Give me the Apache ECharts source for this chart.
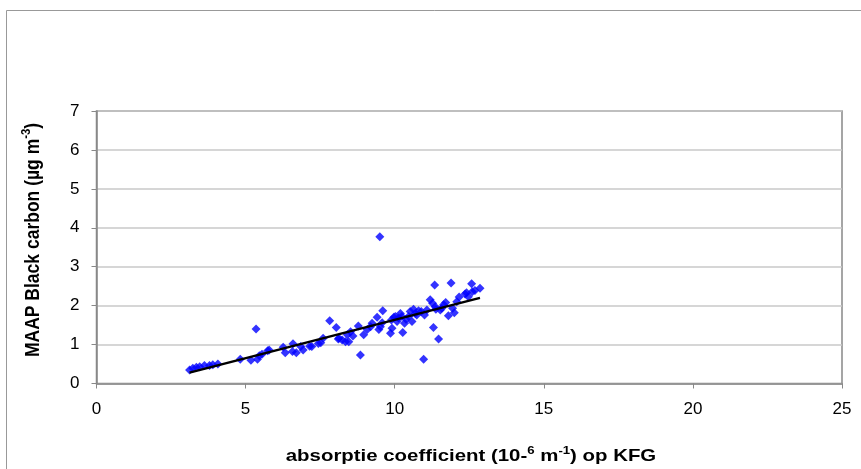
<!DOCTYPE html>
<html>
<head>
<meta charset="utf-8">
<script src="https://cdn.jsdelivr.net/npm/echarts@6/dist/echarts.min.js"></script>
<style>html,body{margin:0;padding:0;background:#fff;}#c{width:861px;height:469px;}</style>
</head>
<body>
<div id="c"></div>
<script>
// absorptie coefficient (x) values
var xValues = [3.12,3.23,3.35,3.46,3.62,3.79,3.90,4.07,4.82,5.18,5.35,5.40,5.46,5.55,5.74,5.79,6.26,6.33,6.59,6.57,6.70,6.85,6.93,7.15,7.22,7.44,7.52,7.60,7.82,8.04,8.11,
  8.13,8.24,8.35,8.46,8.41,8.52,8.60,8.78,8.85,8.96,9.08,9.19,9.24,9.41,9.47,9.52,9.50,9.60,9.58,9.86,9.91,9.89,9.97,10.02,10.08,10.13,10.19,10.24,10.27,10.33,10.38,10.47,10.52,10.58,10.63,10.69,10.74,10.80,10.89,10.97,11.00,11.08,11.19,11.27,11.30,11.34,11.36,11.38,11.47,11.53,11.58,11.64,11.71,11.80,11.89,11.94,12.00,12.08,12.16,12.36,12.41,12.47,12.58,12.60,12.69,12.86];
// MAAP black carbon (y) values
var yValues = [0.35,0.39,0.42,0.43,0.46,0.46,0.48,0.50,0.62,0.60,1.40,0.62,0.71,0.75,0.84,0.86,0.93,0.79,1.02,0.82,0.79,0.95,0.86,0.96,0.95,1.03,1.05,1.16,1.61,1.44,1.14,
  1.16,1.12,1.07,1.07,1.25,1.33,1.22,1.48,0.73,1.25,1.39,1.46,1.55,1.70,1.39,1.46,3.77,1.87,1.56,1.29,1.42,1.63,1.70,1.72,1.59,1.68,1.80,1.72,1.31,1.55,1.65,1.72,1.85,1.59,1.91,1.80,1.76,1.87,1.85,0.62,1.76,1.89,2.15,2.06,1.44,2.53,1.97,1.91,1.14,1.89,1.93,2.02,2.08,1.74,2.58,1.93,1.82,2.10,2.22,2.30,2.33,2.23,2.56,2.36,2.39,2.45];
// trend line end points
var trendX = [3.12, 12.86];
var trendY = [0.28, 2.20];
var xTicks = [0, 5, 10, 15, 20, 25];
var yTicks = [0, 1, 2, 3, 4, 5, 6, 7];
var xTitle = '{b|absorptie coefficient (10-}{s|6}{b| m}{s|-1}{b|) op KFG}';
var yTitle = '{b|MAAP Black carbon (µg m}{s|-3}{b|)}';

var scatterData = xValues.map(function(x, i){ return [x, yValues[i]]; });
var trendData = trendX.map(function(x, i){ return [x, trendY[i]]; });

var chart = echarts.init(document.getElementById('c'));
var font = 'Liberation Sans, Arial, sans-serif';
var richTitle = {
  b: {fontFamily: font, fontWeight: 'bold', fontSize: 17, fill: '#000', color: '#000', verticalAlign: 'bottom', lineHeight: 20},
  s: {fontFamily: font, fontWeight: 'bold', fontSize: 11, fill: '#000', color: '#000', verticalAlign: 'top', lineHeight: 20, padding: [0,0,9,0]}
};
chart.setOption({
  animation: false,
  backgroundColor: '#fff',
  graphic: [{
    type: 'rect', left: 4, top: 8, shape: {width: 900, height: 500},
    style: {fill: 'none', stroke: '#999', lineWidth: 1}, silent: true, z: -1
  }, {
    type: 'text', x: 471, y: 455, scaleX: 1.2, scaleY: 1.0, silent: true,
    style: {text: xTitle, rich: richTitle, align: 'center', verticalAlign: 'middle', font: 'bold 17px ' + font}
  }, {
    type: 'text', x: 32, y: 240, rotation: Math.PI / 2, scaleX: 1.03, scaleY: 1.15, silent: true,
    style: {text: yTitle, rich: richTitle, align: 'center', verticalAlign: 'middle', font: 'bold 17px ' + font}
  }],
  grid: {left: 96.5, right: 19, top: 111, bottom: 85.5, show: true, borderColor: '#888', borderWidth: 1.5, backgroundColor: '#fff'},
  xAxis: {
    type: 'value', min: 0, max: 25, interval: 5,
    axisLine: {show: true, lineStyle: {color: '#888', width: 1.5}},
    axisTick: {show: true, inside: false, length: 5, lineStyle: {color: '#888'}},
    axisLabel: {color: '#000', fontFamily: font, fontSize: 17, margin: 17},
    splitLine: {show: false}
  },
  yAxis: {
    type: 'value', min: 0, max: 7, interval: 1,
    axisLine: {show: true, lineStyle: {color: '#888', width: 1.5}},
    axisTick: {show: true, length: 5, lineStyle: {color: '#888'}},
    axisLabel: {color: '#000', fontFamily: font, fontSize: 17, margin: 17},
    splitLine: {show: true, lineStyle: {color: '#c8c8c8', width: 1.5}}
  },
  series: [{
    type: 'scatter', data: scatterData, symbol: 'diamond', symbolSize: 9,
    itemStyle: {color: '#0000ff'}, z: 2
  }, {
    type: 'line', data: trendData, symbol: 'none',
    lineStyle: {color: '#000', width: 2.5}, z: 3
  }]
});
</script>
</body>
</html>
